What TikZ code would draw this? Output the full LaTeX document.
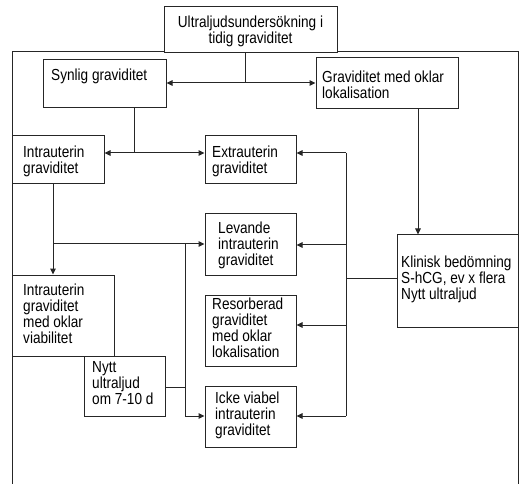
\documentclass[tikz,border=0pt]{standalone}
\usepackage{fontspec}
\setmainfont{Liberation Sans}[FakeStretch=0.85]
\usetikzlibrary{arrows.meta,fit}
\begin{document}
\begin{tikzpicture}[x=1pt,y=-1pt,
  ln/.style={line width=1pt,draw=black!85},
  box/.style={ln,rectangle,inner sep=0pt,fit={#1}},
  txt/.style={inner sep=0pt,anchor=north west,align=left,font=\fontsize{16}{16}\selectfont},
  arr/.style={ln,-{Triangle[length=6pt,width=5.5pt]}}]
\useasboundingbox (0,0) rectangle (520,484);
% boxes
\node[box={(164,7) (337,53)}] (top) {};
\node[box={(43,60) (166,108)}] (syn) {};
\node[box={(316,58) (458,109)}] (gok) {};
\node[box={(12,136) (104,184)}] (intra) {};
\node[box={(205,136) (296,184)}] (extra) {};
\node[box={(205,214) (296,275)}] (lev) {};
\node[box={(397,235) (518,327)}] (klin) {};
\node[box={(12,275) (114,356)}] (iok) {};
\node[box={(205,295) (296,366)}] (res) {};
\node[box={(84,356) (165,416)}] (nytt) {};
\node[box={(205,386) (296,447)}] (icke) {};
% texts
\node[inner sep=0pt,align=center,font=\fontsize{16}{14}\selectfont] (topt) at ([yshift=-1pt]top.center) {Ultraljudsundersökning i\\tidig graviditet};
\node[txt] (synt) at (51,68.5) {Synlig graviditet};
\node[txt] (gokt) at (322,70.5) {Graviditet med oklar\\lokalisation};
\node[txt] (intrat) at (23,145.5) {Intrauterin\\graviditet};
\node[txt] (extrat) at (212,145.5) {Extrauterin\\graviditet};
\node[txt] (levt) at (218,221.5) {Levande\\intrauterin\\graviditet};
\node[txt] (klint) at (401,255.5) {Klinisk bedömning\\S-hCG, ev x flera\\Nytt ultraljud};
\node[txt] (iokt) at (23,283.5) {Intrauterin\\graviditet\\med oklar\\viabilitet};
\node[txt] (rest) at (212,297.5) {Resorberad\\graviditet\\med oklar\\lokalisation};
\node[txt] (nyttt) at (92,361.5) {Nytt\\ultraljud\\om 7-10 d};
\node[txt] (icket) at (215,391.5) {Icke viabel\\intrauterin\\graviditet};
% frame
\coordinate (fl) at (12,484);
\coordinate (fr) at (518,484);
\draw[ln] (fl) -- (12,52) -- (top.west |- 0,52);
\draw[ln] (top.east |- 0,52) -- (518,52) -- (fr);
% connectors
\coordinate (j1) at (245,83);
\draw[ln] (top.south -| j1) -- (j1);
\draw[arr] (j1) -- (syn.east |- j1);
\draw[arr] (j1) -- (gok.west |- j1);
\coordinate (j2) at (134,153);
\draw[ln] (syn.south -| j2) -- (j2);
\draw[arr] (j2) -- (intra.east |- j2);
\draw[arr] (j2) -- (extra.west |- j2);
\draw[arr] (gok.south -| 418,0) -- (klin.north -| 418,0);
\coordinate (r1) at (346,153);
\coordinate (r2) at (346,416);
\coordinate (rk) at (346,278);
\draw[ln] (klin.west |- rk) -- (rk);
\draw[ln] (r1) -- (r2);
\draw[arr] (r1) -- (extra.east |- r1);
\draw[arr] (346,245) -- (lev.east |- 0,245);
\draw[arr] (346,325) -- (res.east |- 0,325);
\draw[arr] (r2) -- (icke.east |- r2);
\coordinate (l1) at (53,244);
\draw[arr] (intra.south -| l1) -- (iok.north -| l1);
\draw[arr] (l1) -- (lev.west |- l1);
\coordinate (m1) at (185,244);
\coordinate (m2) at (185,416);
\draw[ln] (m1) -- (m2);
\draw[arr] (m2) -- (icke.west |- m2);
\draw[ln] (nytt.east |- 0,387) -- (185,387);
\end{tikzpicture}
\end{document}
